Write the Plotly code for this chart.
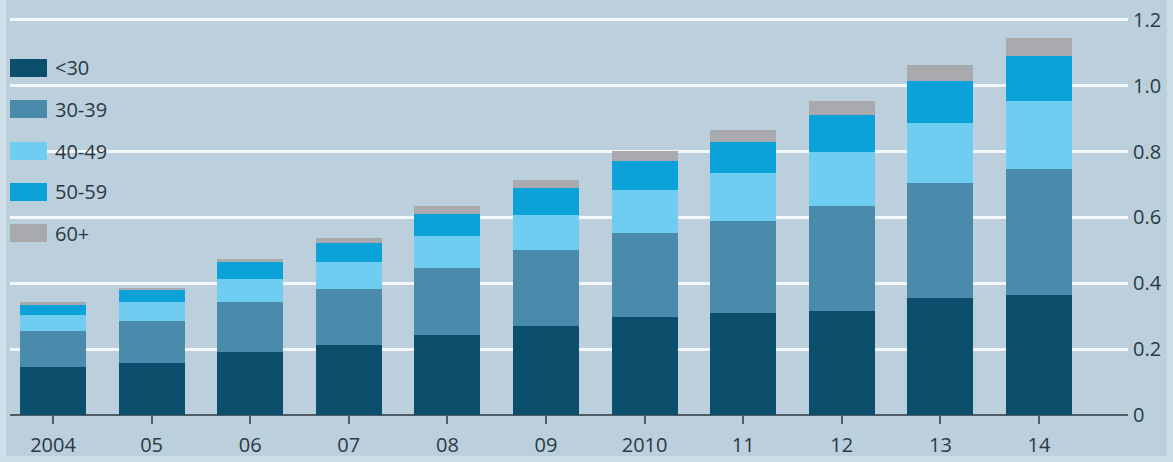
import plotly.graph_objects as go

# Years on the horizontal axis
years = ["2004", "05", "06", "07", "08", "09", "2010", "11", "12", "13", "14"]

# Stacked values by age group
under_30 = [0.145, 0.157, 0.190, 0.212, 0.244, 0.270, 0.298, 0.310, 0.317, 0.354, 0.366]
age_30_39 = [0.110, 0.129, 0.154, 0.170, 0.204, 0.231, 0.256, 0.280, 0.319, 0.350, 0.380]
age_40_49 = [0.049, 0.056, 0.068, 0.084, 0.096, 0.108, 0.129, 0.145, 0.162, 0.184, 0.209]
age_50_59 = [0.033, 0.038, 0.052, 0.056, 0.066, 0.080, 0.090, 0.095, 0.114, 0.127, 0.136]
age_60_plus = [0.005, 0.004, 0.009, 0.015, 0.024, 0.025, 0.028, 0.036, 0.043, 0.048, 0.055]

y_ticks = [0, 0.2, 0.4, 0.6, 0.8, 1.0, 1.2]
y_tick_text = ["0", "0.2", "0.4", "0.6", "0.8", "1.0", "1.2"]

series = [
    ("<30", under_30, "#0b4f6c"),
    ("30-39", age_30_39, "#4a8bab"),
    ("40-49", age_40_49, "#6fcdf2"),
    ("50-59", age_50_59, "#0aa2d8"),
    ("60+", age_60_plus, "#a8aaad"),
]

BG = "#bbd0dc"
TEXT = "#2a3944"
FONT = "Open Sans"
FS = 20

# plot area in pixels
L, R, T, B = 10, 45, 0, 47
W, H = 1173, 462
PW, PH = W - L - R, H - T - B


def px(x):
    return (x - L) / PW


def py(y):
    return (H - B - y) / PH


fig = go.Figure()
for name, vals, color in series:
    fig.add_trace(go.Bar(
        x=years, y=vals, name=name,
        marker=dict(color=color, line=dict(width=0)),
        width=0.67, showlegend=False,
    ))

shapes = [
    # legend backdrop hides the gridlines behind it
    dict(type="rect", xref="paper", yref="paper", x0=px(0), x1=px(137),
         y0=py(252), y1=py(45), fillcolor=BG, line=dict(width=0), layer="below"),
    # lighter strips along the left, right and bottom edges
    dict(type="rect", xref="paper", yref="paper", x0=px(0), x1=px(6),
         y0=py(462), y1=py(0), fillcolor="#d0e0e8", line=dict(width=0), layer="below"),
    dict(type="rect", xref="paper", yref="paper", x0=px(0), x1=px(1173),
         y0=py(462), y1=py(456), fillcolor="#cddde6", line=dict(width=0), layer="below"),
    dict(type="rect", xref="paper", yref="paper", x0=px(1167), x1=px(1173),
         y0=py(462), y1=py(0), fillcolor="#cddde6", line=dict(width=0), layer="below"),
]
annotations = []
legend_centers = [68, 109, 151, 192, 233]
for (name, _, color), cy in zip(series, legend_centers):
    shapes.append(dict(
        type="rect", xref="paper", yref="paper",
        x0=px(10), x1=px(47), y0=py(cy + 9), y1=py(cy - 9),
        fillcolor=color, line=dict(width=0), layer="above",
    ))
    annotations.append(dict(
        xref="paper", yref="paper", x=px(53), y=py(cy),
        text=name, showarrow=False, xanchor="left", yanchor="middle",
        font=dict(family=FONT, size=FS, color=TEXT),
    ))

fig.update_layout(
    barmode="stack",
    width=W, height=H,
    margin=dict(l=L, r=R, t=T, b=B),
    paper_bgcolor=BG, plot_bgcolor=BG,
    shapes=shapes,
    annotations=annotations,
    xaxis=dict(
        type="category",
        range=[(L - 53) / 98.6, (W - R - 53) / 98.6],
        showgrid=False,
        showline=False,
        ticks="outside", ticklen=8, tickwidth=1.5, tickcolor="#4f5c66",
        tickfont=dict(family=FONT, size=FS, color=TEXT),
        ticklabelstandoff=4,
        fixedrange=True,
    ),
    yaxis=dict(
        side="right",
        range=[0, PH / 329.2],
        tickvals=y_ticks, ticktext=y_tick_text,
        showgrid=True, gridcolor="#f4f8fa", gridwidth=2.5,
        zeroline=True, zerolinecolor="#4f5c66", zerolinewidth=1.5,
        showline=False, ticks="",
        tickfont=dict(family=FONT, size=FS, color=TEXT),
        ticklabelstandoff=4,
    ),
)

fig.write_html("out.html")
